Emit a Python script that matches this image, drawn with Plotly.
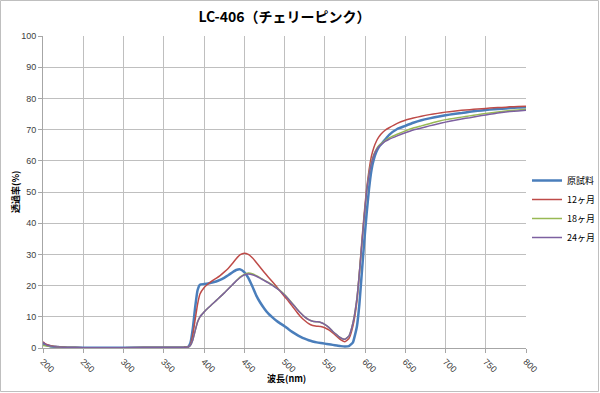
import plotly.graph_objects as go

wavelength = [200, 203, 206, 210, 215, 220, 230, 250, 300, 350, 375, 380, 383, 386, 389, 392, 395,
              400, 405, 410, 415, 420, 425, 430, 435, 440, 445, 450, 455, 460, 465, 470, 475, 480,
              485, 490, 495, 500, 505, 510, 515, 520, 525, 530, 535, 540, 545, 550, 555, 560, 565,
              570, 575, 580, 585, 590, 593, 596, 599, 602, 605, 608, 611, 614, 617, 620, 625, 630,
              640, 650, 660, 670, 680, 690, 700, 710, 720, 730, 740, 750, 760, 770, 780, 790, 800]

original = [1.5, 1.0, 0.8, 0.5, 0.4, 0.3, 0.2, 0.1, 0.1, 0.2, 0.2, 0.3, 1.5, 6.0, 13.0, 18.5, 20.3,
            20.5, 20.7, 21.0, 21.3, 21.8, 22.5, 23.3, 24.2, 25.0, 25.2, 24.3, 22.5, 19.8, 16.8, 14.5, 12.6, 11.0,
            9.8, 8.7, 7.8, 7.0, 6.0, 5.1, 4.3, 3.6, 3.0, 2.5, 2.1, 1.8, 1.6, 1.4, 1.2, 1.0, 0.8,
            0.6, 0.5, 0.6, 1.8, 7.0, 14.0, 24.0, 34.0, 43.0, 51.0, 57.0, 60.5, 62.8, 64.3, 65.3, 66.8, 68.3,
            70.2, 71.2, 72.2, 73.0, 73.6, 74.1, 74.6, 75.0, 75.3, 75.7, 76.0, 76.3, 76.5, 76.7, 76.9, 77.1, 77.2]

month12 = [2.0, 1.3, 1.0, 0.7, 0.5, 0.3, 0.2, 0.1, 0.1, 0.2, 0.2, 0.3, 1.0, 4.0, 9.0, 14.0, 17.3,
           19.3, 20.5, 21.5, 22.3, 23.2, 24.3, 25.5, 27.0, 28.6, 29.9, 30.4, 30.0, 28.9, 27.4, 25.8, 24.2, 22.7,
           21.2, 19.7, 18.1, 16.5, 15.0, 13.3, 11.6, 10.0, 8.8, 7.8, 7.2, 7.0, 6.9, 6.5, 5.8, 4.8, 3.7,
           2.6, 2.0, 3.0, 7.0, 15.0, 24.0, 34.0, 43.0, 51.0, 57.0, 61.5, 64.3, 66.2, 67.6, 68.6, 69.8, 70.6,
           72.0, 73.0, 73.7, 74.3, 74.8, 75.2, 75.6, 75.9, 76.2, 76.4, 76.6, 76.8, 77.0, 77.1, 77.3, 77.4, 77.5]

month18 = [0.8, 0.7, 0.6, 0.5, 0.4, 0.3, 0.2, 0.1, 0.1, 0.2, 0.2, 0.3, 0.8, 2.5, 5.5, 8.3, 10.0,
           11.5, 12.8, 14.0, 15.2, 16.4, 17.6, 18.9, 20.2, 21.5, 22.8, 23.6, 24.0, 23.8, 23.2, 22.5, 21.7, 21.0,
           20.2, 19.3, 18.3, 17.1, 15.7, 14.2, 12.7, 11.2, 10.0, 9.1, 8.6, 8.4, 8.2, 7.6, 6.6, 5.3, 4.2,
           3.2, 2.8, 3.8, 8.0, 16.0, 24.0, 33.0, 42.0, 50.0, 55.8, 59.6, 62.1, 63.7, 64.8, 65.5, 66.5, 67.3,
           68.5, 69.6, 70.5, 71.2, 71.9, 72.6, 73.2, 73.6, 74.0, 74.4, 74.8, 75.2, 75.5, 75.8, 76.1, 76.3, 76.5]

month24 = [1.8, 1.2, 0.8, 0.6, 0.4, 0.3, 0.2, 0.1, 0.1, 0.2, 0.2, 0.3, 0.8, 2.5, 5.5, 8.3, 10.0,
           11.5, 12.8, 14.0, 15.2, 16.4, 17.6, 18.9, 20.2, 21.5, 22.6, 23.4, 23.7, 23.5, 23.0, 22.3, 21.6, 20.9,
           20.1, 19.2, 18.2, 17.0, 15.6, 14.1, 12.6, 11.2, 10.0, 9.1, 8.6, 8.4, 8.2, 7.6, 6.6, 5.3, 4.2,
           3.2, 2.8, 3.8, 8.0, 16.0, 24.0, 33.0, 42.0, 50.0, 55.5, 59.3, 61.8, 63.4, 64.5, 65.2, 66.2, 66.9,
           68.0, 69.0, 69.9, 70.5, 71.2, 71.8, 72.4, 72.9, 73.4, 73.8, 74.3, 74.7, 75.1, 75.5, 75.8, 76.0, 76.2]

series_names = ["原試料", "12ヶ月", "18ヶ月", "24ヶ月"]
series_values = [original, month12, month18, month24]
series_colors = ["#4A7EBB", "#BE4B48", "#98B954", "#7D60A0"]
series_widths = [2.5, 1.5, 1.5, 1.5]

x_ticks = list(range(200, 801, 50))
y_ticks = list(range(0, 101, 10))

fig = go.Figure()
for name, vals, col, w in zip(series_names, series_values, series_colors, series_widths):
    fig.add_trace(go.Scatter(x=wavelength, y=vals, mode="lines", name=name,
                             line=dict(color=col, width=w, shape="spline", smoothing=0.4)))

L, R, T, B = 43, 74, 36, 45
W, H = 600, 393
pw, ph = W - L - R, H - T - B

fig.update_layout(
    width=W, height=H,
    margin=dict(l=L, r=R, t=T, b=B, autoexpand=False),
    paper_bgcolor="white", plot_bgcolor="white",
    title=dict(text="LC-406（チェリーピンク）", x=0.5, xref="paper", xanchor="center",
               y=1 - 17 / H, yanchor="middle",
               font=dict(family="Noto Sans CJK JP", size=14, color="#000000", weight="bold")),
    font=dict(family="Noto Sans CJK JP", size=9, color="#404040"),
    legend=dict(x=1 + 1 / pw, xanchor="left", y=(ph - (209 - T)) / ph, yanchor="middle",
                font=dict(family="Noto Sans CJK JP", size=9, color="#000000"),
                bgcolor="rgba(0,0,0,0)", tracegroupgap=0),
    showlegend=True,
)
fig.update_xaxes(range=[200, 800], tickvals=x_ticks, ticktext=[str(v) for v in x_ticks],
                 tickangle=45, showgrid=True, gridcolor="#BFBFBF", gridwidth=1,
                 showline=True, linecolor="#A6A6A6", linewidth=1, ticks="outside", ticklen=4,
                 tickcolor="#A6A6A6", zeroline=False, automargin=False,
                 tickfont=dict(family="Liberation Sans", size=9, color="#404040"))
fig.update_yaxes(range=[0, 100], tickvals=y_ticks, showgrid=True, gridcolor="#BFBFBF", gridwidth=1,
                 showline=True, linecolor="#A6A6A6", linewidth=1, ticks="outside", ticklen=4,
                 tickcolor="#A6A6A6", zeroline=False, automargin=False,
                 tickfont=dict(family="Liberation Sans", size=9, color="#404040"))

fig.add_annotation(text="<b>波長(nm)</b>", xref="paper", yref="paper",
                   x=(286 - L) / pw, y=-(378 - (T + ph)) / ph, showarrow=False,
                   xanchor="center", yanchor="middle",
                   font=dict(family="Noto Sans CJK JP", size=9, color="#000000"))
fig.add_annotation(text="<b>透過率(%)</b>", xref="paper", yref="paper",
                   x=-(L - 15) / pw, y=(ph - (192 - T)) / ph, showarrow=False, textangle=-90,
                   xanchor="center", yanchor="middle",
                   font=dict(family="Noto Sans CJK JP", size=9, color="#000000"))

fig.add_shape(type="rect", xref="paper", yref="paper",
              x0=(-L + 0.5) / pw, x1=1 + (R - 1.5) / pw, y0=(-B + 1.5) / ph, y1=1 + (T - 0.5) / ph,
              line=dict(color="#BFBFBF", width=1), fillcolor="rgba(0,0,0,0)", layer="below")

fig.write_html("out.html", config={"displayModeBar": False},
               post_script="document.body.style.margin='0';document.body.style.overflow='hidden';")
